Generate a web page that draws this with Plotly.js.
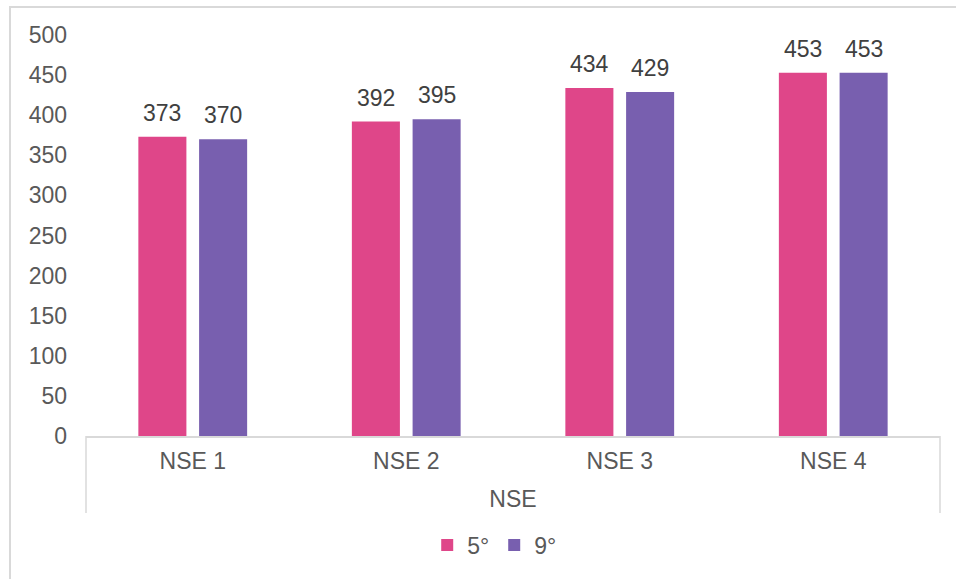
<!DOCTYPE html>
<html>
<head>
<meta charset="utf-8">
<script src="https://cdn.plot.ly/plotly-3.0.1.min.js"></script>
<style>
  html, body { margin: 0; padding: 0; background: #fff; overflow: hidden; }
  #frame { position: absolute; left: 9px; top: 6px; width: 1000px; height: 700px;
           border-left: 2px solid #D9D9D9; border-top: 2px solid #D9D9D9; }
  #chart { position: absolute; left: 0; top: 0; width: 956px; height: 579px; }
</style>
</head>
<body>
<div id="frame"></div>
<div id="chart"></div>
<script>
const categories = ["NSE 1", "NSE 2", "NSE 3", "NSE 4"];
const seriesNames = ["5°", "9°"];
const grade5 = [373, 392, 434, 453];
const grade9 = [370, 395, 429, 453];
const yTicks = [0, 50, 100, 150, 200, 250, 300, 350, 400, 450, 500];
const axisTitle = "NSE";

const colors = ["#DF4689", "#785FAF"];
const FONT = "Liberation Sans, Arial, Helvetica, sans-serif";
const seriesValues = [grade5, grade9];

const traces = seriesValues.map((vals, i) => ({
  type: "bar",
  name: seriesNames[i],
  x: categories,
  y: vals,
  marker: { color: colors[i] },
  hoverinfo: "x+y+name"
}));

const slotShift = 30.4;
const annotations = [];
seriesValues.forEach((vals, i) => {
  vals.forEach((v, j) => {
    annotations.push({
      x: categories[j], y: v, xref: "x", yref: "y",
      text: String(v), showarrow: false,
      xshift: (i === 0 ? -1 : 1) * slotShift,
      yanchor: "bottom", yshift: 9,
      font: { family: FONT, size: 23, color: "#404040" }
    });
  });
});

const dividerDepth = -0.192;
const shapes = [0, 1].map(px => ({
  type: "line", xref: "paper", yref: "paper",
  x0: px, x1: px, y0: 0, y1: dividerDepth,
  line: { color: "#D9D9D9", width: 1.5 }
}));

const layout = {
  width: 956, height: 579, autosize: false,
  margin: { l: 86, r: 16, t: 35, b: 141 },
  paper_bgcolor: "rgba(0,0,0,0)", plot_bgcolor: "rgba(0,0,0,0)",
  font: { family: FONT, size: 23, color: "#595959" },
  bargap: 0.431, bargroupgap: 0.209, barmode: "group",
  xaxis: {
    type: "category",
    showline: true, linecolor: "#D9D9D9", linewidth: 1.5,
    ticks: "", showgrid: false, zeroline: false,
    tickfont: { family: FONT, size: 23, color: "#595959" },
    ticklabelstandoff: 4,
    title: { text: axisTitle, font: { family: FONT, size: 23, color: "#595959" }, standoff: 18 }
  },
  yaxis: {
    range: [0, 500], tickvals: yTicks, ticktext: yTicks.map(String),
    showgrid: false, zeroline: false, showline: false, ticks: "",
    tickfont: { family: FONT, size: 23, color: "#595959" },
    ticklabelstandoff: 18
  },
  showlegend: true,
  legend: {
    orientation: "h", x: 0.478, xanchor: "center", y: -0.272, yanchor: "middle",
    font: { family: FONT, size: 23, color: "#595959" },
    itemwidth: 30,
    traceorder: "normal", itemclick: false, itemdoubleclick: false
  },
  annotations: annotations,
  shapes: shapes
};

Plotly.newPlot("chart", traces, layout, { displayModeBar: false, responsive: false });
</script>
</body>
</html>
